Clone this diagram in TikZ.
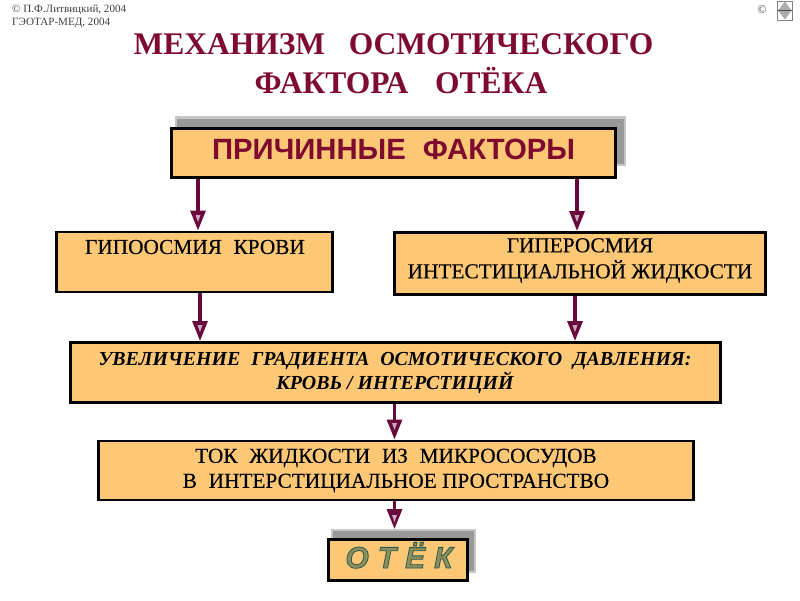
\documentclass[tikz,border=0pt]{standalone}
\usepackage{fontspec}
\setmainfont{Liberation Serif}[FakeBold=0.25]
\newfontfamily\sansf{Liberation Sans}
\newfontfamily\titlef{Liberation Serif}
\newfontfamily\smallf{Liberation Serif}
\usetikzlibrary{arrows.meta}
\definecolor{boxfill}{HTML}{FDC875}
\definecolor{maroon}{HTML}{7E0A30}
\definecolor{arrowc}{HTML}{6A0A3C}
\definecolor{otekline}{HTML}{2C5A50}
\tikzset{
  pos box/.style={draw=black,fill=boxfill,line width=2.6pt,align=center,inner sep=0pt,anchor=north west},
  boxtxt/.style={font=\fontsize{21.3}{25}\selectfont,text=black,align=center,inner sep=0pt},
  conn/.style={draw=arrowc,line width=3.2pt,-{Triangle[length=20pt,width=15pt,fill=arrowc]}},
  headmark/.style={fill=white!65!arrowc,draw=none},
  shadow outer/.style={fill=gray!45,draw=none,inner sep=0pt,anchor=north west},
  shadow inner/.style={fill=gray!80,draw=none},
  small/.style={font=\smallf\fontsize{11.1}{13}\selectfont,text=black!75,align=left,anchor=north west,inner sep=0pt},
  titletxt/.style={font=\titlef\bfseries\fontsize{31.5}{39}\selectfont,text=maroon,inner sep=0pt,anchor=base}
}
\newcommand{\hm}[2]{\fill[headmark] (#1-2.5,#2-15) -- (#1+2.5,#2-15) -- (#1,#2-8) -- cycle;}
\begin{document}
\begin{tikzpicture}[x=1pt,y=-1pt]
\useasboundingbox (0,0) rectangle (800,600);
% texts at the top
\node[small] (c1) at (12,5) {© П.Ф.Литвицкий, 2004\\ГЭОТАР-МЕД, 2004};
\node[small,anchor=center,font=\smallf\fontsize{12}{13}\selectfont] (c2) at (762,10) {©};
\draw[gray,line width=.5pt] (777,1) rectangle (792,20);
\fill[gray!65] (785,1.5) -- (791.5,10.5) -- (785,19.5) -- (778,10.5) -- cycle;
\draw[black!70,line width=1pt] (778,10.5) -- (791.5,10.5);
\node[titletxt] (t1) at (393.5,54) {МЕХАНИЗМ\hspace{.75em}ОСМОТИЧЕСКОГО};
\node[titletxt] (t2) at (401,93) {ФАКТОРА\hspace{.85em}ОТЁКА};
% shadows
\fill[shadow outer] (175,116) rectangle (626,166);
\fill[shadow inner] (177,119) rectangle (624,164);
\node[shadow outer,minimum width=145pt,minimum height=44pt] (oteksh) at (331,529) {};
\fill[shadow inner] (333,531) rectangle (474,571);
% boxes
\node[pos box,line width=3.2pt,minimum width=444pt,minimum height=49pt,text height=21pt,text depth=8pt,font=\sansf\bfseries\fontsize{29.3}{33}\selectfont,text=maroon] (top) at (170,126.5) {ПРИЧИННЫЕ\hspace{.3em} ФАКТОРЫ};
\node[pos box,minimum width=276pt,minimum height=60pt] (hypo) at (55,230.5) {};
\node[boxtxt] (hypot) at (195,247) {ГИПООСМИЯ\hspace{.3em} КРОВИ};
\node[pos box,minimum width=371pt,minimum height=62pt] (hyper) at (393,231) {};
\node[boxtxt] (hypert) at (580,260.5) {ГИПЕРОСМИЯ\\[1pt]ИНТЕСТИЦИАЛЬНОЙ ЖИДКОСТИ};
\node[pos box,line width=2.8pt,minimum width=650pt,minimum height=60pt] (grad) at (69,341) {};
\node[boxtxt,font=\titlef\bfseries\itshape\fontsize{19.9}{24}\selectfont] (gradt) at (395,373) {УВЕЛИЧЕНИЕ\hspace{.3em} ГРАДИЕНТА\hspace{.3em} ОСМОТИЧЕСКОГО\hspace{.3em} ДАВЛЕНИЯ:\\КРОВЬ / ИНТЕРСТИЦИЙ};
\node[pos box,minimum width=595pt,minimum height=59pt] (flow) at (97,439.5) {};
\node[boxtxt] (flowt) at (396,470.5) {ТОК\hspace{.3em} ЖИДКОСТИ\hspace{.3em} ИЗ\hspace{.3em} МИКРОСОСУДОВ\\В\hspace{.3em} ИНТЕРСТИЦИАЛЬНОЕ ПРОСТРАНСТВО};
\node[pos box,line width=3pt,minimum width=139pt,minimum height=41pt] (otek) at (326.5,537.5) {};
\node[font=\sansf\bfseries\itshape\fontsize{30}{34}\selectfont,inner sep=0pt,text=otekline,anchor=base] (otekt) at (399,568) {\special{pdf:code 2 Tr 0.8 w 0.17 0.35 0.31 RG 0.55 0.56 0.36 rg}О\hspace{.3em}Т\hspace{.3em}Ё\hspace{.3em}К\special{pdf:code 0 Tr}};
% connectors
\coordinate (a1) at (198,0);
\coordinate (a2) at (577,0);
\coordinate (a3) at (200,0);
\coordinate (a4) at (575,0);
\coordinate (a5) at (394.5,0);
\draw[conn] (top.south -| a1) -- (hypo.north -| a1);
\draw[conn] (top.south -| a2) -- (hyper.north -| a2);
\draw[conn] (hypo.south -| a3) -- (grad.north -| a3);
\draw[conn] (hyper.south -| a4) -- (grad.north -| a4);
\draw[conn] (grad.south -| a5) -- (flow.north -| a5);
\draw[conn] (flow.south -| a5) -- (oteksh.north -| a5);
\hm{198}{230}\hm{577}{230}\hm{200}{340}\hm{575}{340}\hm{394.5}{438}\hm{394.5}{530}
\end{tikzpicture}
\end{document}
